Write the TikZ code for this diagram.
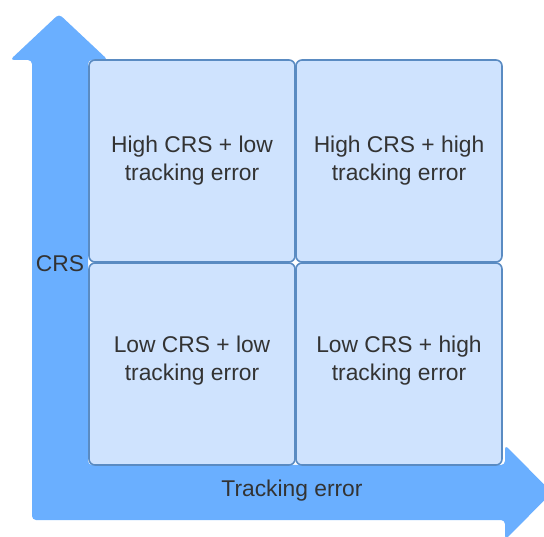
\documentclass[tikz,border=0pt]{standalone}
\usepackage{fontspec}
\setmainfont{Liberation Sans}
\definecolor{arrowblue}{HTML}{6AAFFF}
\definecolor{boxfill}{HTML}{CFE3FE}
\definecolor{boxline}{HTML}{5A8BC2}
\definecolor{txt}{HTML}{333333}
\begin{document}
\begin{tikzpicture}[x=1pt,y=-1pt,
  quad/.style={draw=boxline, line width=1.6pt, fill=boxfill, rounded corners=6pt,
    minimum width=206pt, minimum height=202pt, inner sep=0pt},
  quadtext/.style={align=center, inner sep=0pt,
    text=txt, font=\fontsize{22.8}{28}\selectfont},
  axlabel/.style={text=txt, font=\fontsize{22.8}{26}\selectfont, inner sep=0pt}]
\useasboundingbox (0,0) rectangle (544,537);
% L-shaped arrow
\fill[arrowblue, rounded corners=4pt]
  (32,60) -- (10,60) -- (59,14) -- (108,60) -- (88,60) -- (88,465)
  -- (505,465) -- (505,445) -- (552,492.5) -- (505,540) -- (505,520)
  -- (32,520) -- cycle;
% quadrants
\node[quad] (hl) at (192,161) {};
\node[quad] (hh) at (399,161) {};
\node[quad] (ll) at (192,364) {};
\node[quad] (lh) at (399,364) {};
\node[quadtext] (hlt) at (192,161) {High CRS + low\\tracking error};
\node[quadtext] (hht) at (399,161) {High CRS + high\\tracking error};
\node[quadtext] (llt) at (192,361) {Low CRS + low\\tracking error};
\node[quadtext] (lht) at (399,361) {Low CRS + high\\tracking error};
% axis labels
\node[axlabel] (crs) at (60,264) {CRS};
\node[axlabel] (te) at (292,491) {Tracking error};
\end{tikzpicture}
\end{document}
